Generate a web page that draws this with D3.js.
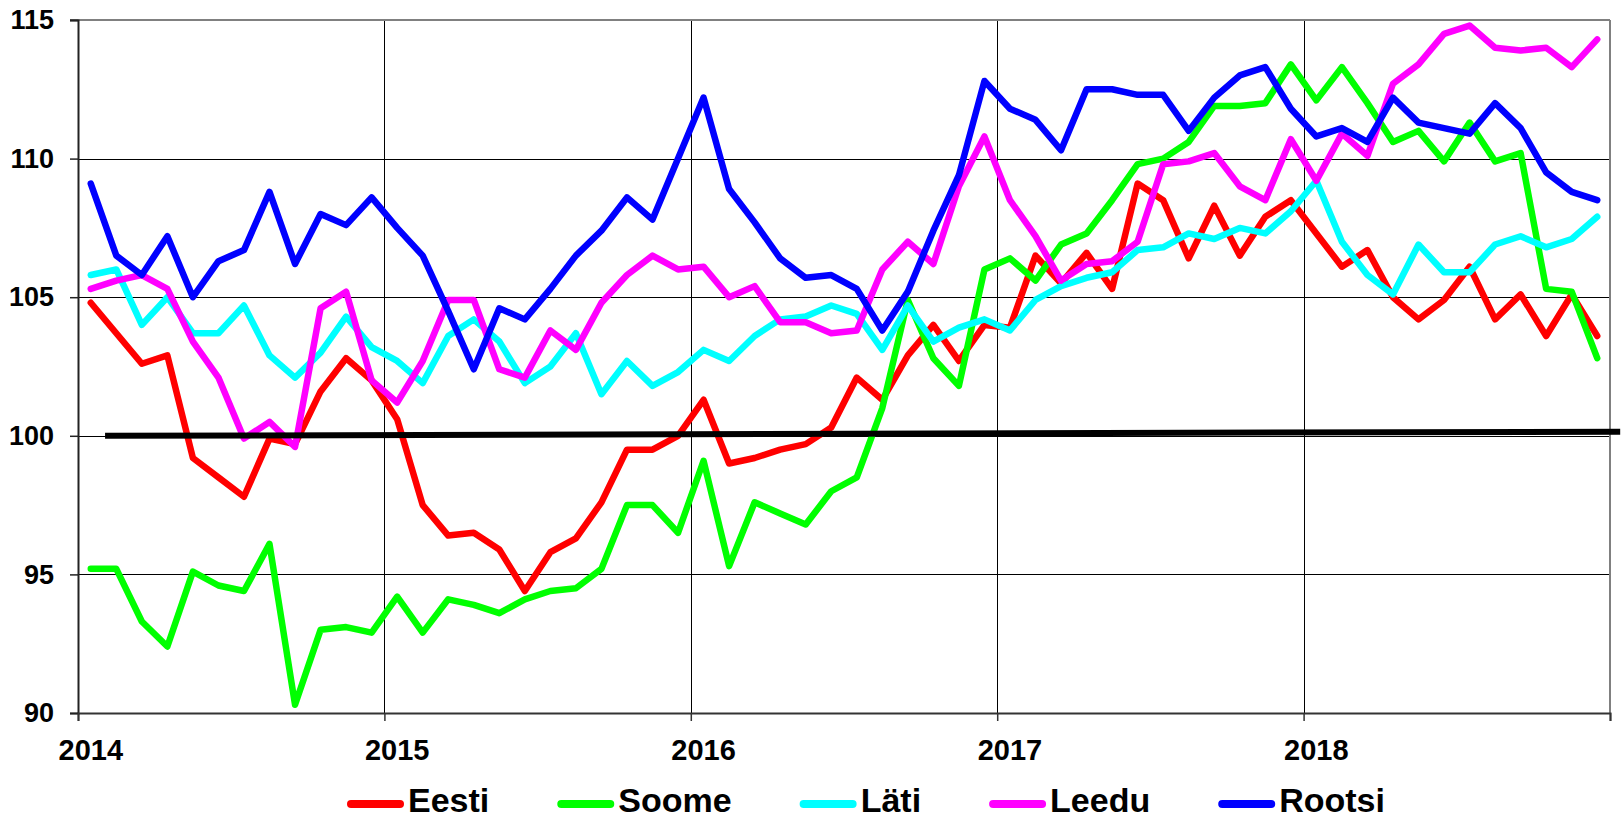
<!DOCTYPE html>
<html>
<head>
<meta charset="utf-8">
<script src="https://cdn.jsdelivr.net/npm/d3@7"></script>
<style>
  html, body { margin: 0; padding: 0; background: #fff; }
  svg { display: block; font-family: "Liberation Sans", Arial, sans-serif; font-weight: bold; }
</style>
</head>
<body>
<script>
const width = 1624;
const height = 820;
const margin = { top: 20, right: 14, bottom: 107, left: 78 };

// monthly index values, Jan 2014 .. Dec 2018
const years = ['2014', '2015', '2016', '2017', '2018'];
const seriesNames = ['Eesti', 'Soome', 'Läti', 'Leedu', 'Rootsi'];
const seriesColors = ['#ff0000', '#00ff00', '#00ffff', '#ff00ff', '#0000ff'];

const eesti = [
  104.8, 103.7, 102.6, 102.9, 99.2, 98.5, 97.8, 99.9, 99.7, 101.6, 102.8, 102.0,
  100.6, 97.5, 96.4, 96.5, 95.9, 94.4, 95.8, 96.3, 97.6, 99.5, 99.5, 100.0,
  101.3, 99.0, 99.2, 99.5, 99.7, 100.3, 102.1, 101.3, 102.9, 104.0, 102.7, 104.0,
  103.9, 106.5, 105.5, 106.6, 105.3, 109.1, 108.5, 106.4, 108.3, 106.5, 107.9, 108.5,
  107.3, 106.1, 106.7, 105.0, 104.2, 104.9, 106.1, 104.2, 105.1, 103.6, 105.1, 103.6
];
const soome = [
  95.2, 95.2, 93.3, 92.4, 95.1, 94.6, 94.4, 96.1, 90.3, 93.0, 93.1, 92.9,
  94.2, 92.9, 94.1, 93.9, 93.6, 94.1, 94.4, 94.5, 95.2, 97.5, 97.5, 96.5,
  99.1, 95.3, 97.6, 97.2, 96.8, 98.0, 98.5, 101.0, 104.9, 102.8, 101.8, 106.0,
  106.4, 105.6, 106.9, 107.3, 108.5, 109.8, 110.0, 110.6, 111.9, 111.9, 112.0, 113.4,
  112.1, 113.3, 112.0, 110.6, 111.0, 109.9, 111.3, 109.9, 110.2, 105.3, 105.2, 102.8
];
const lati = [
  105.8, 106.0, 104.0, 105.0, 103.7, 103.7, 104.7, 102.9, 102.1, 103.0, 104.3, 103.2,
  102.7, 101.9, 103.6, 104.2, 103.4, 101.9, 102.5, 103.7, 101.5, 102.7, 101.8, 102.3,
  103.1, 102.7, 103.6, 104.2, 104.3, 104.7, 104.4, 103.1, 104.7, 103.4, 103.9, 104.2,
  103.8, 104.9, 105.4, 105.7, 105.9, 106.7, 106.8, 107.3, 107.1, 107.5, 107.3, 108.1,
  109.2, 107.0, 105.8, 105.1, 106.9, 105.9, 105.9, 106.9, 107.2, 106.8, 107.1, 107.9
];
const leedu = [
  105.3, 105.6, 105.8, 105.3, 103.4, 102.1, 99.9, 100.5, 99.6, 104.6, 105.2, 102.0,
  101.2, 102.7, 104.9, 104.9, 102.4, 102.1, 103.8, 103.1, 104.8, 105.8, 106.5, 106.0,
  106.1, 105.0, 105.4, 104.1, 104.1, 103.7, 103.8, 106.0, 107.0, 106.2, 109.0, 110.8,
  108.5, 107.2, 105.6, 106.2, 106.3, 107.0, 109.8, 109.9, 110.2, 109.0, 108.5, 110.7,
  109.2, 110.9, 110.1, 112.7, 113.4, 114.5, 114.8, 114.0, 113.9, 114.0, 113.3, 114.3
];
const rootsi = [
  109.1, 106.5, 105.8, 107.2, 105.0, 106.3, 106.7, 108.8, 106.2, 108.0, 107.6, 108.6,
  107.5, 106.5, 104.5, 102.4, 104.6, 104.2, 105.3, 106.5, 107.4, 108.6, 107.8, 110.0,
  112.2, 108.9, 107.7, 106.4, 105.7, 105.8, 105.3, 103.8, 105.2, 107.4, 109.4, 112.8,
  111.8, 111.4, 110.3, 112.5, 112.5, 112.3, 112.3, 111.0, 112.2, 113.0, 113.3, 111.8,
  110.8, 111.1, 110.6, 112.2, 111.3, 111.1, 110.9, 112.0, 111.1, 109.5, 108.8, 108.5
];
const yTicks = [90, 95, 100, 105, 110, 115];

// hand drawn 100 line: [month index, value]
const baseLine = [[1.06, 100], [60.4, 100.15]];

const seriesValues = [eesti, soome, lati, leedu, rootsi];
const series = seriesNames.map((name, k) => ({ name, color: seriesColors[k], values: seriesValues[k] }));
const nMonths = eesti.length;

const svg = d3.select('body').append('svg')
  .attr('width', width)
  .attr('height', height);

svg.append('rect').attr('width', width).attr('height', height).attr('fill', 'white');

const x = d3.scaleLinear().domain([0, nMonths]).range([margin.left, width - margin.right]);
const y = d3.scaleLinear().domain([90, 115]).range([height - margin.bottom, margin.top]);

const plotL = x(0), plotR = x(nMonths), plotT = y(115), plotB = y(90);

// grid
svg.append('g').selectAll('line.hgrid')
  .data(yTicks.filter(t => t > 90 && t < 115))
  .join('line')
  .attr('x1', plotL).attr('x2', plotR)
  .attr('y1', d => Math.round(y(d)) + 0.5).attr('y2', d => Math.round(y(d)) + 0.5)
  .attr('stroke', '#000').attr('stroke-width', 1);

const yearIdx = years.map((yr, k) => k * 12);
svg.append('g').selectAll('line.vgrid')
  .data(yearIdx.filter(i => i > 0))
  .join('line')
  .attr('x1', d => Math.round(x(d)) + 0.5).attr('x2', d => Math.round(x(d)) + 0.5)
  .attr('y1', plotT).attr('y2', plotB)
  .attr('stroke', '#000').attr('stroke-width', 1);

// frame: top + right grey, left + bottom dark
svg.append('line').attr('x1', plotL - 8).attr('x2', plotR).attr('y1', plotT).attr('y2', plotT)
  .attr('stroke', '#808080').attr('stroke-width', 2);
svg.append('line').attr('x1', plotR).attr('x2', plotR).attr('y1', plotT).attr('y2', plotB)
  .attr('stroke', '#808080').attr('stroke-width', 2);

// y axis
const yAxis = svg.append('g')
  .attr('transform', `translate(${plotL},0)`)
  .call(d3.axisLeft(y).tickValues(yTicks).tickSize(8).tickPadding(16).tickFormat(d3.format('d')));
yAxis.select('.domain').attr('stroke', '#222').attr('stroke-width', 2);
yAxis.selectAll('.tick line').attr('stroke', '#222').attr('stroke-width', 1.5);
yAxis.selectAll('.tick text')
  .attr('fill', '#000')
  .style('font-size', '27px')
  .style('font-weight', 'bold')
  .style('font-family', '"Liberation Sans", Arial, sans-serif');

// x axis: ticks at year boundaries, labels at first month of each year
const xAxis = svg.append('g')
  .attr('transform', `translate(0,${plotB})`)
  .call(d3.axisBottom(x).tickValues(d3.range(0, nMonths + 1, 12)).tickSize(8).tickFormat(''));
xAxis.select('.domain').attr('stroke', '#333').attr('stroke-width', 2);
xAxis.selectAll('.tick line').attr('stroke', '#333').attr('stroke-width', 1.5);

svg.append('g').selectAll('text.xlab')
  .data(years)
  .join('text')
  .attr('x', (d, k) => x(k * 12 + 0.5))
  .attr('y', plotB + 47)
  .attr('text-anchor', 'middle')
  .style('font-size', '29px')
  .text(d => d);

// series
const line = d3.line()
  .x((d, i) => x(i + 0.5))
  .y(d => y(d));

svg.append('g').selectAll('path.series')
  .data(series)
  .join('path')
  .attr('fill', 'none')
  .attr('stroke', d => d.color)
  .attr('stroke-width', 6.5)
  .attr('stroke-linejoin', 'round')
  .attr('stroke-linecap', 'round')
  .attr('d', d => line(d.values));

// the 100 line
svg.append('path')
  .attr('fill', 'none')
  .attr('stroke', '#000')
  .attr('stroke-width', 6)
  .attr('d', d3.line().x(d => x(d[0])).y(d => y(d[1]))(baseLine));

// legend
const legend = svg.append('g').attr('transform', 'translate(347,0)');
let lx = 0;
series.forEach(s => {
  const item = legend.append('g').attr('transform', `translate(${lx},0)`);
  item.append('line')
    .attr('x1', 4).attr('x2', 53).attr('y1', 804).attr('y2', 804)
    .attr('stroke', s.color).attr('stroke-width', 8).attr('stroke-linecap', 'round');
  const t = item.append('text')
    .attr('x', 61).attr('y', 812)
    .style('font-size', '34px')
    .text(s.name);
  lx += 61 + t.node().getComputedTextLength() + 68;
});
</script>
</body>
</html>
